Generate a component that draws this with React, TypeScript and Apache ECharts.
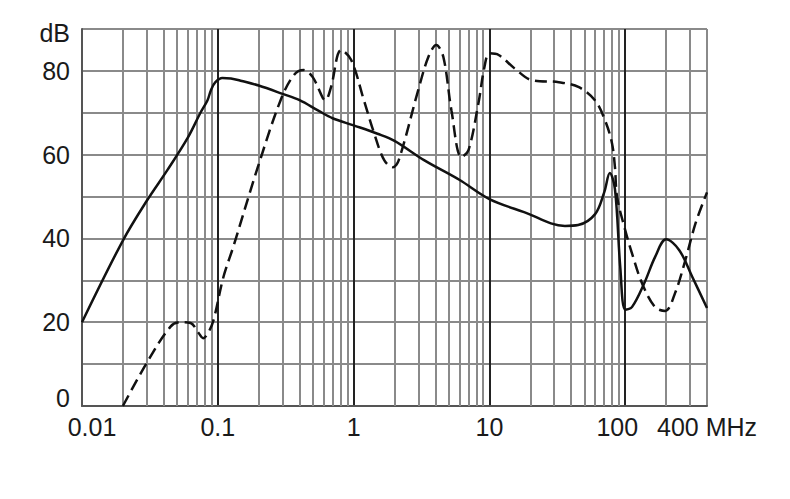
import React, { useEffect, useRef } from 'react';
import * as echarts from 'echarts';

// solid curve: frequency (MHz) and level (dB)
const solidFreq = [
  0.01, 0.02, 0.03, 0.0425, 0.06, 0.0745, 0.084, 0.089, 0.096, 0.108, 0.125, 0.15, 0.2, 0.3, 0.4, 0.55, 0.7, 1.0,
  1.5, 2.0, 3.3, 6, 10, 18, 36, 45, 60, 70, 77, 84, 92, 100, 112, 138, 166, 200, 250, 312, 400,
];
const solidDb = [
  20, 39.5, 49, 56.3, 64, 70, 73, 75.4, 77.3, 78.3, 78.2, 77.6, 76.5, 74.5, 73, 70.5, 68.7, 67,
  65, 63.3, 58.7, 54, 49.4, 46.3, 43, 43.2, 45.8, 51, 55.6, 51.8, 33, 23, 23.6, 29.3, 35.6, 39.8, 37.2, 30.8, 23.4,
];

// dashed curve
const dashedFreq = [
  0.02, 0.03, 0.0447, 0.053, 0.063, 0.072, 0.078, 0.085, 0.093, 0.11, 0.13, 0.197, 0.29, 0.363, 0.43, 0.5,
  0.594, 0.62, 0.68, 0.81, 0.96, 1.19, 1.42, 1.68, 1.95, 2.15, 2.99, 3.55, 4.06, 4.58, 5.25, 6.22, 7.0,
  8.3, 9.2, 10, 11.7, 15.3, 20.5, 32.4, 45.6, 59.8, 71, 79.8, 84, 87, 98.6, 112, 133, 166, 197, 233, 277,
  330, 400,
];
const dashedDb = [
  0, 10.3, 18.9, 20, 19.8, 17.5, 16.2, 17.5, 20.5, 30.8, 38, 57, 73, 79, 80.2, 78.5,
  73.5, 73, 76, 85, 82.6, 73, 65, 58.7, 57, 58.7, 75.4, 83.3, 86.2, 83.3, 70.6, 59.4, 61,
  72.3, 81, 84.2, 83.8, 80.6, 77.8, 77.3, 76.1, 73, 68.2, 62.8, 57, 50, 42.7, 36.5, 29.3, 23.6, 22.7, 27, 34.8,
  43.7, 51,
];

// thin vertical grid lines between the decades
const minorGridFreq = [
  0.02, 0.03, 0.04, 0.05, 0.06, 0.07, 0.08, 0.09,
  0.2, 0.3, 0.4, 0.5, 0.6, 0.7, 0.8, 0.9,
  2, 3, 4, 5, 6, 7, 8, 9,
  20, 30, 40, 50, 60, 70, 80, 90,
  200, 300,
];

const yLabelTicks = [0, 20, 40, 60, 80];

const FONT = 'Liberation Sans, Arial, sans-serif';
const TEXT = '#1a1a1a';
const GRID_GRAY = '#8a8a8a';
const DARK = '#222';

const App: React.FC = () => {
  const chartRef = useRef<HTMLDivElement>(null);

  useEffect(() => {
    document.body.style.margin = '0';
    if (!chartRef.current) return;
    const chart = echarts.init(chartRef.current, undefined, { renderer: 'svg' });

    const labelStyle = { fontSize: 25, color: TEXT, fontFamily: FONT };

    const option: any = {
      animation: false,
      backgroundColor: '#fff',
      grid: { left: 82, right: 83, top: 29, bottom: 93, containLabel: false },
      xAxis: {
        type: 'log',
        logBase: 10,
        min: 0.01,
        max: 400,
        axisLine: { show: true, lineStyle: { color: '#555', width: 2 } },
        axisTick: { show: false },
        axisLabel: {
          ...labelStyle,
          margin: 8,
          showMinLabel: true,
          showMaxLabel: true,
          formatter: (value: number) => {
            const v = +value.toPrecision(6);
            if (v === 0.01) return '{l|0.01}';
            if (v === 100) return '{r|100}';
            if (v === 400) return '400 MHz';
            return String(v);
          },
          rich: {
            l: { ...labelStyle, padding: [0, 0, 0, 20] },
            r: { ...labelStyle, padding: [0, 16, 0, 0] },
          },
        },
        splitLine: {
          show: true,
          lineStyle: { color: [GRID_GRAY, DARK, DARK, DARK, DARK, GRID_GRAY], width: 2 },
        },
      },
      yAxis: {
        type: 'value',
        min: 0,
        max: 90,
        interval: 10,
        axisLine: { show: true, lineStyle: { color: '#555', width: 2 } },
        axisTick: { show: false },
        axisLabel: {
          ...labelStyle,
          margin: 12,
          formatter: (v: number) => {
            if (v === 90) return '{d|dB}';
            if (v === 0) return '{b|0}';
            return yLabelTicks.includes(v) ? String(v) : '';
          },
          rich: {
            d: { ...labelStyle, padding: [8, 0, 0, 0] },
            b: { ...labelStyle, padding: [0, 0, 16, 0] },
          },
        },
        splitLine: { show: true, lineStyle: { color: GRID_GRAY, width: 2 } },
      },
      series: [
        {
          type: 'line',
          data: [],
          silent: true,
          z: 1,
          markLine: {
            silent: true,
            z: 1,
            symbol: 'none',
            label: { show: false },
            lineStyle: { color: GRID_GRAY, width: 2, type: 'solid' },
            data: minorGridFreq.map((f) => ({ xAxis: f })),
          },
        },
        {
          name: 'solid',
          type: 'line',
          z: 3,
          showSymbol: false,
          smooth: 0.35,
          data: solidFreq.map((f, i) => [f, solidDb[i]]),
          lineStyle: { color: '#111', width: 2.5 },
        },
        {
          name: 'dashed',
          type: 'line',
          z: 3,
          showSymbol: false,
          smooth: 0.35,
          data: dashedFreq.map((f, i) => [f, dashedDb[i]]),
          lineStyle: { color: '#111', width: 2.5, type: [12, 6] },
        },
      ],
    };

    chart.setOption(option);
    return () => chart.dispose();
  }, []);

  return <div ref={chartRef} style={{ width: 790, height: 499 }} />;
};

export default App;
